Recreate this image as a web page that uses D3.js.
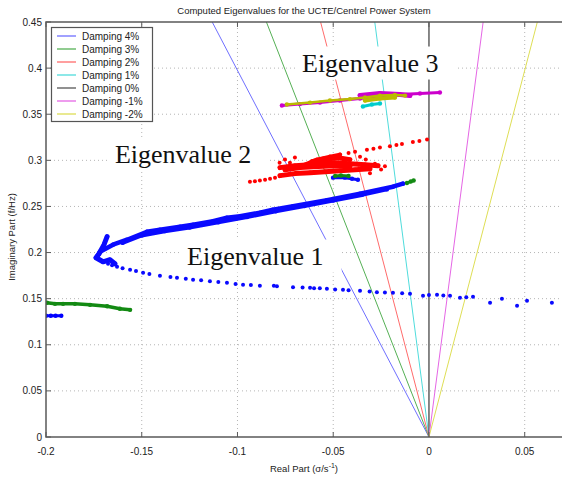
<!DOCTYPE html>
<html>
<head>
<meta charset="utf-8">
<script src="https://cdn.jsdelivr.net/npm/d3@7"></script>
<style>
	body { margin: 0; background: #fff; }
	svg text { font-family: Arial, "Liberation Sans", sans-serif; fill: #222; }
	.lbl { font-family: "Liberation Serif", "Times New Roman", serif; fill: #111; }
</style>
</head>
<body>
<svg id="chart" width="562" height="479"></svg>
<script>
'use strict';

// axis ticks
var xTicks = [-0.2, -0.15, -0.1, -0.05, 0, 0.05];
var xTickLabels = ['-0.2', '-0.15', '-0.1', '-0.05', '0', '0.05'];
var yTicks = [0, 0.05, 0.1, 0.15, 0.2, 0.25, 0.3, 0.35, 0.4, 0.45];
var yTickLabels = ['0', '0.05', '0.1', '0.15', '0.2', '0.25', '0.3', '0.35', '0.4', '0.45'];

// damping lines: real part where each one meets f = 0.45
var dampingNames = ['Damping 4%', 'Damping 3%', 'Damping 2%', 'Damping 1%', 'Damping 0%', 'Damping -1%', 'Damping -2%'];
var dampingTopReal = [-0.1132, -0.0849, -0.0566, -0.0283, 0, 0.0283, 0.0566];
var dampingColors = ['#6f6fff', '#55b055', '#ff6b6b', '#4fdcdc', '#555555', '#e566e5', '#dede55'];

// eigenvalue 1 (blue), [real, imag]
var eig1Tip = [[-0.1681, 0.2172], [-0.1697, 0.2085], [-0.1723, 0.1987], [-0.1739, 0.1944],
	[-0.1702, 0.1900], [-0.1666, 0.1922], [-0.1640, 0.1878]];
var eig1Upper = [[-0.1734, 0.1954], [-0.1718, 0.2009], [-0.1650, 0.2085], [-0.1577, 0.2139],
	[-0.1473, 0.2226], [-0.1405, 0.2248], [-0.1300, 0.2280], [-0.1232, 0.2302], [-0.1128, 0.2340],
	[-0.1055, 0.2378], [-0.0987, 0.2394], [-0.0883, 0.2432], [-0.0815, 0.2465], [-0.0710, 0.2503],
	[-0.0533, 0.2568], [-0.0360, 0.2638], [-0.0188, 0.2714], [-0.0136, 0.2747]];
var eig1Upper2 = [[-0.1600, 0.2105], [-0.1500, 0.2185], [-0.1380, 0.2232], [-0.1250, 0.2272],
	[-0.1100, 0.2328], [-0.0950, 0.2385], [-0.0800, 0.2448], [-0.0650, 0.2505], [-0.0500, 0.2565],
	[-0.0350, 0.2625], [-0.0220, 0.2685]];
var eig1Lower = [[-0.1718, 0.1922], [-0.1676, 0.1878], [-0.1629, 0.1846], [-0.1561, 0.1813],
	[-0.1493, 0.1781], [-0.1405, 0.1748], [-0.1316, 0.1726], [-0.1232, 0.1705], [-0.1144, 0.1688],
	[-0.1055, 0.1672], [-0.0971, 0.1650], [-0.0883, 0.1640], [-0.0794, 0.1634], [-0.0710, 0.1623],
	[-0.0621, 0.1618], [-0.0533, 0.1607], [-0.0449, 0.1596], [-0.0360, 0.1585], [-0.0272, 0.1569],
	[-0.0188, 0.1564], [-0.0099, 0.1553], [-0.0031, 0.1531], [0.0042, 0.1542], [0.0110, 0.1531],
	[0.0162, 0.1509], [0.0230, 0.1520], [0.0319, 0.1455], [0.0381, 0.1498], [0.0460, 0.1422],
	[0.0512, 0.1477], [0.0642, 0.1455], [-0.0810, 0.1640], [-0.0600, 0.1612], [-0.0420, 0.1590],
	[-0.1350, 0.1735], [-0.1100, 0.1680], [-0.1700, 0.1905], [-0.1655, 0.1862], [-0.1600, 0.1830],
	[-0.1530, 0.1800], [-0.1460, 0.1768], [-0.1270, 0.1715], [-0.1190, 0.1700], [-0.1010, 0.1660],
	[-0.0930, 0.1648], [-0.0660, 0.1620], [-0.0570, 0.1612], [-0.0490, 0.1600], [-0.0310, 0.1578],
	[-0.0230, 0.1568], [-0.0140, 0.1558], [0.0000, 0.1540], [0.0075, 0.1535], [0.0195, 0.1515]];
var eig1Left = [[-0.2000, 0.1314], [-0.1975, 0.1314], [-0.1950, 0.1314], [-0.1920, 0.1314]];
var eig1Bits = [[-0.0501, 0.2812], [-0.0439, 0.2812], [-0.0402, 0.2801], [-0.0371, 0.2790]];

// green fragments
var greenEnd = [[-0.0115, 0.2755], [-0.0095, 0.2770], [-0.0080, 0.2782]];
var greenLeft = [[-0.1995, 0.1455], [-0.1953, 0.1444], [-0.1911, 0.1444], [-0.1849, 0.1444],
	[-0.1770, 0.1433], [-0.1681, 0.1417], [-0.1614, 0.1390], [-0.1561, 0.1379]];
var greenBits = [[-0.0490, 0.2830], [-0.0460, 0.2835], [-0.0420, 0.2830]];

// eigenvalue 2 (red)
var eig2Tail = [[-0.0935, 0.2769], [-0.0909, 0.2774], [-0.0883, 0.2780], [-0.0856, 0.2790],
	[-0.0830, 0.2801], [-0.0804, 0.2812]];
var eig2Band1 = [[-0.0778, 0.2834], [-0.0700, 0.2856], [-0.0621, 0.2866], [-0.0543, 0.2877],
	[-0.0465, 0.2888], [-0.0386, 0.2899], [-0.0308, 0.2910]];
var eig2Band2 = [[-0.0778, 0.2921], [-0.0700, 0.2942], [-0.0621, 0.2953], [-0.0569, 0.2986],
	[-0.0491, 0.2975], [-0.0413, 0.2964], [-0.0334, 0.2953], [-0.0266, 0.2942]];
var eig2Band3 = [[-0.0674, 0.2932], [-0.0585, 0.3008], [-0.0517, 0.3040], [-0.0465, 0.3062]];
var eig2Band4 = [[-0.0752, 0.2899], [-0.0674, 0.2921], [-0.0580, 0.2932], [-0.0491, 0.2942],
	[-0.0413, 0.2932]];
var eig2Band5 = [[-0.0611, 0.2986], [-0.0543, 0.3018], [-0.0475, 0.3029], [-0.0413, 0.3008]];
var eig2Upper = [[-0.0386, 0.3094], [-0.0324, 0.3116], [-0.0256, 0.3138], [-0.0204, 0.3154],
	[-0.0141, 0.3176], [-0.0084, 0.3198], [-0.0010, 0.3225], [-0.0420, 0.3080], [-0.0290, 0.3125],
	[-0.0170, 0.3165], [-0.0050, 0.3210], [-0.0752, 0.3008], [-0.0726, 0.2975], [-0.0360, 0.3040],
	[-0.0308, 0.2860], [-0.0282, 0.2964], [-0.0250, 0.2900], [-0.0780, 0.2975], [-0.0700, 0.3030],
	[-0.0230, 0.2935], [-0.0330, 0.3010]];

// eigenvalue 3 (magenta, yellow, cyan)
var eig3Magenta = [[-0.0768, 0.3594], [-0.0674, 0.3610], [-0.0569, 0.3626], [-0.0465, 0.3648],
	[-0.0360, 0.3670], [-0.0256, 0.3692], [-0.0151, 0.3713], [-0.0047, 0.3724], [0.0057, 0.3735]];
var eig3Magenta2 = [[-0.0360, 0.3702], [-0.0256, 0.3724], [-0.0151, 0.3713], [-0.0099, 0.3702]];
var eig3Yellow = [[-0.0742, 0.3605], [-0.0621, 0.3626], [-0.0517, 0.3648], [-0.0413, 0.3664],
	[-0.0334, 0.3681], [-0.0256, 0.3702], [-0.0178, 0.3708], [-0.0125, 0.3702]];
var eig3Yellow2 = [[-0.0334, 0.3648], [-0.0256, 0.3670], [-0.0178, 0.3681]];
var eig3Cyan = [[-0.0345, 0.3583], [-0.0298, 0.3605], [-0.0256, 0.3616]];

// text labels pasted on the plot: [text, real, imag]
var labelText = ['Eigenvalue 1', 'Eigenvalue 2', 'Eigenvalue 3'];
var labelAt = [[-0.1263, 0.1870], [-0.1640, 0.2969], [-0.0663, 0.3963]];

var svg = d3.select('#chart');
var x = d3.scaleLinear().domain([-0.2, 0.07]).range([46, 563]);
var y = d3.scaleLinear().domain([0, 0.45]).range([437, 22]);

svg.append('defs').append('clipPath').attr('id', 'plot')
	.append('rect').attr('x', 46).attr('y', 22).attr('width', 517).attr('height', 415);

var plot = svg.append('g').attr('clip-path', 'url(#plot)');

// dotted grid
plot.selectAll('.gx').data(xTicks.filter(function(d) {return d !== 0 && d !== -0.2;}))
	.enter().append('line')
	.attr('x1', function(d) {return x(d);}).attr('x2', function(d) {return x(d);})
	.attr('y1', y(0)).attr('y2', y(0.45))
	.attr('stroke', '#b5b5b5').attr('stroke-dasharray', '1,3');
plot.selectAll('.gy').data(yTicks.slice(1, 9))
	.enter().append('line')
	.attr('x1', x(-0.2)).attr('x2', 563)
	.attr('y1', function(d) {return y(d);}).attr('y2', function(d) {return y(d);})
	.attr('stroke', '#b5b5b5').attr('stroke-dasharray', '1,3');

// damping lines
plot.selectAll('.damp').data(dampingTopReal)
	.enter().append('line')
	.attr('x1', x(0)).attr('y1', y(0))
	.attr('x2', function(d) {return x(d);}).attr('y2', y(0.45))
	.attr('stroke', function(d, i) {return dampingColors[i];})
	.attr('stroke-width', function(d, i) {return i === 4 ? 1.4 : 1;});

// labels with white backing
var labels = plot.selectAll('.lab').data(labelText).enter().append('g');
labels.append('text')
	.attr('class', 'lbl')
	.attr('x', function(d, i) {return x(labelAt[i][0]);})
	.attr('y', function(d, i) {return y(labelAt[i][1]);})
	.style('font-size', '26px')
	.text(function(d) {return d;});
labels.each(function() {
	var g = d3.select(this);
	var b = g.select('text').node().getBBox();
	g.insert('rect', 'text')
		.attr('x', b.x - 6).attr('y', b.y - 2)
		.attr('width', b.width + 24).attr('height', b.height + 4)
		.attr('fill', '#fff');
});

// eigenvalue traces
var series = [
	{pts: eig1Left, color: '#0000ff', w: 3},
	{pts: greenLeft, color: '#138a13', w: 3.5},
	{pts: eig1Upper2, color: '#0a0aff', w: 4},
	{pts: eig1Upper, color: '#0a0aff', w: 4.5},
	{pts: eig1Tip, color: '#0a0aff', w: 5},
	{pts: eig1Lower, color: '#0a0aff', w: 0},
	{pts: greenEnd, color: '#138a13', w: 3},
	{pts: eig2Tail, color: '#ff0000', w: 0},
	{pts: eig2Band1, color: '#ff0000', w: 5},
	{pts: eig2Band2, color: '#ff0000', w: 5},
	{pts: eig2Band4, color: '#ff0000', w: 5},
	{pts: eig2Band5, color: '#ff0000', w: 5},
	{pts: eig2Band3, color: '#ff0000', w: 4},
	{pts: eig2Upper, color: '#ff0000', w: 0},
	{pts: eig1Bits, color: '#0a0aff', w: 3},
	{pts: greenBits, color: '#138a13', w: 3},
	{pts: eig3Magenta, color: '#cc00cc', w: 3},
	{pts: eig3Magenta2, color: '#cc00cc', w: 5},
	{pts: eig3Cyan, color: '#00cccc', w: 3},
	{pts: eig3Yellow, color: '#bbbb00', w: 2.5},
	{pts: eig3Yellow2, color: '#bbbb00', w: 4}
];
var line = d3.line().x(function(d) {return x(d[0]);}).y(function(d) {return y(d[1]);});
series.forEach(function(s) {
	if (s.w > 0) {
		plot.append('path').attr('d', line(s.pts))
			.attr('fill', 'none').attr('stroke', s.color)
			.attr('stroke-width', s.w).attr('stroke-linecap', 'round').attr('stroke-linejoin', 'round');}
	plot.append('g').selectAll('circle').data(s.pts).enter().append('circle')
		.attr('cx', function(d) {return x(d[0]);})
		.attr('cy', function(d) {return y(d[1]);})
		.attr('r', s.w > 0 ? 2.2 : 2)
		.attr('fill', s.color);
});

// axes box and ticks
var axisColor = '#5a5a5a';
svg.append('path')
	.attr('d', 'M563,' + y(0.45) + 'H' + x(-0.2) + 'V' + y(0) + 'H563')
	.attr('fill', 'none').attr('stroke', axisColor).attr('stroke-width', 1.5);
svg.selectAll('.tx').data(xTicks).enter().append('path')
	.attr('d', function(d) {
		return 'M' + x(d) + ',' + y(0) + 'v-5M' + x(d) + ',' + y(0.45) + 'v5';})
	.attr('stroke', axisColor);
svg.selectAll('.ty').data(yTicks).enter().append('path')
	.attr('d', function(d) {return 'M' + x(-0.2) + ',' + y(d) + 'h5';})
	.attr('stroke', axisColor);

svg.selectAll('.xl').data(xTickLabels).enter().append('text')
	.attr('x', function(d, i) {return x(xTicks[i]);})
	.attr('y', 455)
	.attr('text-anchor', 'middle')
	.style('font-size', '10px')
	.text(function(d) {return d;});
svg.selectAll('.yl').data(yTickLabels).enter().append('text')
	.attr('x', 42)
	.attr('y', function(d, i) {return y(yTicks[i]) + 3.5;})
	.attr('text-anchor', 'end')
	.style('font-size', '10px')
	.text(function(d) {return d;});

svg.append('text')
	.attr('x', 304).attr('y', 14)
	.attr('text-anchor', 'middle')
	.style('font-size', '9.5px')
	.text('Computed Eigenvalues for the UCTE/Centrel Power System');

var xt = svg.append('text')
	.attr('x', 304).attr('y', 472)
	.attr('text-anchor', 'middle')
	.style('font-size', '9.5px');
xt.append('tspan').text('Real Part (\u03c3/s');
xt.append('tspan').attr('dy', -4).style('font-size', '7px').text('-1');
xt.append('tspan').attr('dy', 4).text(')');

svg.append('text')
	.attr('transform', 'translate(15,237) rotate(-90)')
	.attr('text-anchor', 'middle')
	.style('font-size', '9.5px')
	.text('Imaginary Part (f/Hz)');

// legend
var legend = svg.append('g');
legend.append('rect')
	.attr('x', 51.5).attr('y', 27.5).attr('width', 101).attr('height', 94)
	.attr('fill', '#fff').attr('stroke', '#555').attr('stroke-width', 1.2);
var items = legend.selectAll('.item').data(dampingNames).enter().append('g')
	.attr('transform', function(d, i) {return 'translate(0,' + (36 + i * 13) + ')';});
items.append('line')
	.attr('x1', 57).attr('x2', 76)
	.attr('stroke', function(d, i) {return dampingColors[i];})
	.attr('stroke-width', 1.3);
items.append('text')
	.attr('x', 82).attr('y', 3.5)
	.style('font-size', '10px')
	.text(function(d) {return d;});
</script>
</body>
</html>
